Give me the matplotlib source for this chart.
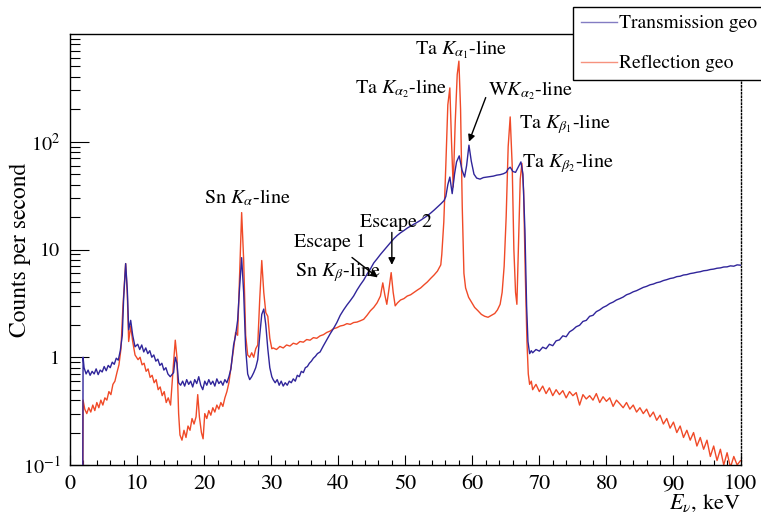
import numpy as np
import matplotlib
matplotlib.use("Agg")
import matplotlib.pyplot as plt
from matplotlib.ticker import FixedLocator, FixedFormatter, LogLocator, NullFormatter, MultipleLocator

# ---------------- data ----------------
E_trans = [1.9, 1.95, 2.1, 2.4, 2.7, 3.0, 3.3, 3.6, 3.9, 4.2, 4.5, 4.8, 5.1, 5.4, 5.7, 6.0, 6.3, 6.6, 6.9, 7.2,
           7.5, 7.8, 8.0, 8.3, 8.55, 8.75, 9.05, 9.35, 9.7,
           10.1, 10.4, 10.7, 11.0, 11.3, 11.6, 11.9, 12.2, 12.5, 12.8, 13.1, 13.4, 13.7, 14.0, 14.3, 14.6, 14.95,
           15.45, 15.7, 15.95,
           16.2, 16.5, 16.8, 17.1, 17.4, 17.7, 18.0, 18.3, 18.6, 18.9, 19.2, 19.5, 19.8, 20.1, 20.4, 20.7, 21.0,
           21.3, 21.6, 21.9, 22.2, 22.5, 22.8, 23.1, 23.4, 23.7, 24.0,
           24.4, 24.7, 25.0, 25.3, 25.6, 25.9, 26.2, 26.5, 26.8, 27.1, 27.4, 27.7, 28.0, 28.3, 28.6, 28.9, 29.2,
           29.5, 29.8, 30.1,
           30.3, 30.6, 30.9, 31.2, 31.5, 31.8, 32.1, 32.4, 32.7, 33.0, 33.3, 33.6, 33.9, 34.2, 34.5, 34.8, 35.1,
           35.4, 35.7, 36.0, 36.3, 36.6, 36.9,
           37.3, 37.8, 38.3, 38.8, 39.3, 39.8, 40.3, 40.8, 41.3, 41.8, 42.3, 42.8, 43.3, 43.8, 44.3, 44.8, 45.3,
           45.8, 46.3, 46.8, 47.3, 47.8, 48.3, 48.8, 49.3, 49.8, 50.3, 50.8, 51.3, 51.8, 52.3, 52.8, 53.3, 53.8,
           54.3, 54.8, 55.3, 55.8,
           56.05, 56.35, 56.65, 57.0, 57.35, 57.65, 58.05, 58.45, 58.85, 59.15, 59.5, 59.85, 60.25, 60.65, 61.15,
           61.65, 62.15, 62.65, 63.15, 63.65, 64.15, 64.65, 65.05, 65.35, 65.65, 66.05, 66.45, 66.85, 67.25,
           67.55, 67.85, 68.1, 68.3, 68.55,
           68.8, 69.0, 69.5, 70.0, 70.5, 71.0, 71.5, 72.0, 72.5, 73.0, 73.5,
           74.0, 74.5, 75.0, 75.5, 76.0, 76.5, 77.0, 77.5, 78.0, 78.5, 79.0, 79.5, 80.0, 80.5, 81.0, 81.5, 82.0,
           82.5, 83.0, 83.5, 84.0, 84.5, 85.0, 85.5, 86.0, 86.5, 87.0, 87.5, 88.0, 88.5, 89.0, 89.5, 90.0, 90.5,
           91.0, 91.5, 92.0, 92.5, 93.0, 93.5, 94.0, 94.5, 95.0, 95.5, 96.0, 96.5, 97.0, 97.5, 98.0, 98.5, 99.0,
           99.5, 100.0]
trans = [0.05, 1.0, 0.80, 0.70, 0.76, 0.68, 0.74, 0.70, 0.78, 0.69, 0.76, 0.73, 0.82, 0.75, 0.84, 0.80, 0.90, 0.86,
         0.98, 0.94, 1.15, 1.6, 3.5, 7.4, 4.2, 1.8, 2.2, 1.6, 1.25,
         1.32, 1.18, 1.30, 1.12, 1.22, 1.08, 1.15, 1.00, 1.05, 0.92, 0.96, 0.84, 0.88, 0.76, 0.80, 0.70, 0.66,
         0.72, 1.0, 0.88,
         0.58, 0.55, 0.60, 0.54, 0.62, 0.56, 0.60, 0.53, 0.62, 0.57, 0.66, 0.55, 0.50, 0.60, 0.55, 0.62, 0.56,
         0.60, 0.54, 0.63, 0.57, 0.60, 0.55, 0.62, 0.58, 0.66, 0.78,
         1.3, 1.6, 2.2, 4.5, 8.4, 4.0, 1.2, 0.70, 0.62, 0.66, 0.72, 0.80, 0.95, 1.6, 2.5, 2.8, 2.0,
         1.2, 0.80, 0.66,
         0.62, 0.58, 0.62, 0.55, 0.60, 0.54, 0.58, 0.55, 0.60, 0.58, 0.63, 0.60, 0.68, 0.66, 0.74, 0.72, 0.80,
         0.82, 0.88, 0.92, 0.98, 1.02, 1.08,
         1.12, 1.28, 1.45, 1.65, 1.85, 2.1, 2.45, 2.75, 3.05, 3.35, 3.7, 4.2, 4.7, 5.2, 5.9, 6.6, 7.5,
         8.2, 9.0, 9.8, 10.7, 11.6, 12.6, 13.5, 14.3, 15.0, 15.8, 16.5, 17.2, 17.9, 18.7, 19.6, 20.6, 21.8,
         23.2, 24.8, 26.5, 28.5,
         31, 40, 47, 33, 50, 65, 74, 55, 47, 60, 93, 66, 50, 46, 45,
         46.5, 47, 47.5, 48, 49, 49.5, 50.5, 52, 56, 58, 53, 52, 58, 65,
         50, 15, 3, 1.4, 1.08,
         1.15, 1.10, 1.18, 1.14, 1.24, 1.20, 1.32, 1.28, 1.42, 1.45, 1.58,
         1.55, 1.72, 1.80, 1.92, 1.98, 2.15, 2.20, 2.40, 2.45, 2.65, 2.75, 2.90, 3.0, 3.15, 3.25, 3.40, 3.50,
         3.62, 3.80, 3.90, 4.05, 4.15, 4.3, 4.45, 4.55, 4.70, 4.78, 4.92, 5.00, 5.15, 5.25, 5.38, 5.45, 5.60,
         5.65, 5.80, 5.85, 5.98, 6.05, 6.15, 6.22, 6.35, 6.40, 6.52, 6.58, 6.70, 6.75, 6.88, 6.90, 7.05, 7.00,
         7.20, 7.15]

E_refl = [1.9, 1.95, 2.2, 2.5, 2.8, 3.1, 3.4, 3.7, 4.0, 4.3, 4.6, 4.9, 5.2, 5.5, 5.8, 6.1, 6.4, 6.7, 7.0, 7.3,
          7.6, 7.9, 8.3, 8.55, 8.75, 9.05, 9.35, 9.7,
          10.15, 10.45, 10.75, 11.05, 11.35, 11.65, 11.95, 12.25, 12.55, 12.85, 13.15, 13.45, 13.75, 14.05,
          14.35, 14.65,
          15.0, 15.45, 15.7, 15.95, 16.2,
          16.4, 16.7, 17.0, 17.3, 17.6, 17.9, 18.2, 18.5, 18.8, 19.05, 19.3, 19.6, 19.85, 20.1, 20.4, 20.7, 21.0,
          21.3, 21.6, 21.9, 22.2, 22.5, 22.8, 23.1, 23.4, 23.7, 24.0,
          24.4, 24.7, 25.0, 25.3, 25.6, 25.9, 26.2, 26.5, 26.8, 27.1, 27.4, 27.7, 28.0, 28.3, 28.6, 28.9, 29.2,
          29.5, 29.8, 30.1,
          30.3, 30.8, 31.3, 31.8, 32.3, 32.8, 33.3, 33.8, 34.3, 34.8, 35.3, 35.8, 36.3, 36.8, 37.3, 37.8, 38.3,
          38.8, 39.3, 39.8, 40.3, 40.8, 41.3, 41.8, 42.3, 42.8, 43.3, 43.8,
          44.3, 44.8, 45.3, 45.8, 46.3,
          46.65, 46.95, 47.25, 47.55, 47.9, 48.2, 48.5, 48.85, 49.3,
          49.8, 50.3, 50.8, 51.3, 51.8, 52.3, 52.8, 53.3, 53.8, 54.3, 54.8, 55.3,
          55.45, 55.75, 56.05, 56.35, 56.65, 56.9, 57.15, 57.45, 57.75, 58.0, 58.25, 58.5, 58.75, 59.0, 59.45,
          59.95, 60.35, 60.85, 61.35, 61.85, 62.35, 62.85, 63.35, 63.75, 64.15, 64.45, 64.75, 65.05, 65.35,
          65.65, 65.95, 66.2, 66.45, 66.65, 66.9, 67.15, 67.4, 67.65, 67.9, 68.15, 68.35, 68.55,
          68.8, 69.0, 69.5, 70.0, 70.5, 71.0, 71.5, 72.0, 72.5, 73.0, 73.5, 74.0, 74.5, 75.0,
          75.5, 76.0, 76.5, 77.0, 77.5, 78.0, 78.5, 79.0, 79.5, 80.0, 80.5, 81.0, 81.5, 82.0, 82.5, 83.0, 83.5,
          84.0, 84.5, 85.0, 85.5, 86.0, 86.5, 87.0, 87.5, 88.0, 88.5, 89.0, 89.5, 90.0, 90.5, 91.0, 91.5, 92.0,
          92.5, 93.0, 93.5, 94.0, 94.5, 95.0, 95.5, 96.0, 96.5, 97.0, 97.5, 98.0, 98.5, 99.0, 99.5, 100.0]
refl = [0.05, 0.40, 0.33, 0.30, 0.34, 0.31, 0.36, 0.32, 0.38, 0.34, 0.40, 0.36, 0.42, 0.40, 0.48, 0.45, 0.56, 0.60,
        0.72, 0.85, 1.2, 3.0, 7.4, 3.8, 1.4, 1.95, 1.4, 1.05,
        0.95, 1.0, 0.85, 0.88, 0.74, 0.78, 0.65, 0.68, 0.58, 0.62, 0.50, 0.53, 0.44, 0.48, 0.38, 0.42,
        0.36, 0.9, 1.44, 1.0, 0.3,
        0.19, 0.17, 0.21, 0.18, 0.23, 0.21, 0.27, 0.24, 0.28, 0.45, 0.28, 0.20, 0.175, 0.30, 0.27, 0.32, 0.29,
        0.34, 0.31, 0.36, 0.33, 0.38, 0.35, 0.42, 0.48, 0.58, 0.80,
        1.2, 1.7, 1.6, 6, 22, 8, 1.6, 1.05, 1.0, 1.1, 1.0, 1.2, 1.3, 3.5, 7.9, 4.0, 2.6, 2.4, 1.5, 1.2,
        1.22, 1.18, 1.26, 1.22, 1.30, 1.27, 1.35, 1.32, 1.40, 1.38, 1.46, 1.44, 1.52, 1.50, 1.58, 1.62, 1.70,
        1.75, 1.84, 1.88, 1.95, 1.98, 2.05, 2.02, 2.10, 2.12, 2.18, 2.25,
        2.45, 2.7, 2.9, 3.2, 3.7,
        4.9, 3.8, 3.1, 4.2, 6.1, 4.0, 3.0, 3.2, 3.4,
        3.5, 3.7, 3.8, 4.0, 4.2, 4.4, 4.7, 5.0, 5.4, 5.8, 6.3, 7.2,
        9, 18, 60, 220, 316, 100, 38, 150, 420, 560, 200, 25, 6, 4.4, 3.6,
        3.2, 2.9, 2.7, 2.5, 2.4, 2.35, 2.45, 2.55, 2.75, 3.1, 4.0, 7, 20, 90,
        170, 60, 10, 4, 3.1, 12, 45, 63, 35, 6, 1.4, 0.7, 0.56,
        0.60, 0.50, 0.56, 0.48, 0.54, 0.46, 0.52, 0.44, 0.50, 0.45, 0.49, 0.42, 0.48, 0.44,
        0.47, 0.36, 0.45, 0.41, 0.44, 0.40, 0.46, 0.38, 0.43, 0.39, 0.42, 0.35, 0.40, 0.37, 0.34, 0.38, 0.33,
        0.36, 0.31, 0.34, 0.30, 0.33, 0.28, 0.31, 0.26, 0.29, 0.24, 0.27, 0.22, 0.25, 0.20, 0.23, 0.18, 0.21,
        0.17, 0.20, 0.15, 0.18, 0.14, 0.17, 0.12, 0.15, 0.11, 0.14, 0.10, 0.13, 0.095, 0.12, 0.10, 0.11]

y_ticks = [0.1, 1, 10, 100]
y_tick_labels = [r'$10^{-1}$', '1', '10', r'$10^{2}$']
x_ticks = [0, 10, 20, 30, 40, 50, 60, 70, 80, 90, 100]

# ---------------- style ----------------
plt.rcParams['font.family'] = ['STIXGeneral', 'DejaVu Serif']
plt.rcParams['mathtext.fontset'] = 'stix'

BLUE = '#30259a'
RED = '#f04a28'

fig = plt.figure(figsize=(7.61, 5.18), dpi=100)
ax = fig.add_axes([70/761, 1-465/518, (740.5-70)/761, (465-34)/518])

ax.plot(E_trans, trans, color=BLUE, lw=1.0, label='Transmission geo', zorder=3)
ax.plot(E_refl, refl, color=RED, lw=1.0, label='Reflection geo', zorder=2)

ax.set_yscale('log')
ax.set_xlim(0, 100)
ax.set_ylim(0.1, 1000)

ax.xaxis.set_major_locator(FixedLocator(x_ticks))
ax.xaxis.set_minor_locator(MultipleLocator(2))
ax.yaxis.set_major_locator(FixedLocator(y_ticks))
ax.yaxis.set_major_formatter(FixedFormatter(y_tick_labels))
ax.yaxis.set_minor_locator(LogLocator(base=10, subs=np.arange(2, 10)))
ax.yaxis.set_minor_formatter(NullFormatter())

ax.tick_params(axis='x', which='major', direction='in', length=7, width=0.8, labelsize=16, pad=7,
               top=False)
ax.tick_params(axis='x', which='minor', direction='in', length=3.6, width=0.8, top=False)
ax.tick_params(axis='y', which='major', direction='in', length=14, width=0.8, labelsize=14.5, pad=7,
               right=False)
ax.tick_params(axis='y', which='minor', direction='in', length=7, width=0.8, right=False)

for s in ['left', 'bottom', 'top']:
    ax.spines[s].set_linewidth(1.0)
ax.spines['right'].set_linestyle((0, (1, 1.5)))
ax.spines['right'].set_linewidth(1.0)

ax.set_ylabel('Counts per second', fontsize=17)
ax.yaxis.set_label_coords(-0.058, 0.5)
ax.text(1.0, -0.09, r'$E_{\nu}$, keV', transform=ax.transAxes, ha='right', va='center', fontsize=16)

# annotations
fs = 14.5
ax.text(26.5, 30.4, r'Sn $K_{\alpha}$-line', ha='center', va='center', fontsize=fs)
ax.text(40.0, 6.2, r'Sn $K_{\beta}$-line', ha='center', va='center', fontsize=fs)
ax.text(38.8, 11.6, 'Escape 1', ha='center', va='center', fontsize=fs)
ax.text(48.6, 17.8, 'Escape 2', ha='center', va='center', fontsize=fs)
ax.text(58.3, 720, r'Ta $K_{\alpha_1}$-line', ha='center', va='center', fontsize=fs)
ax.text(49.4, 310, r'Ta $K_{\alpha_2}$-line', ha='center', va='center', fontsize=fs)
ax.text(68.75, 300, r'W$K_{\alpha_2}$-line', ha='center', va='center', fontsize=fs)
ax.text(73.8, 145, r'Ta $K_{\beta_1}$-line', ha='center', va='center', fontsize=fs)
ax.text(74.3, 64, r'Ta $K_{\beta_2}$-line', ha='center', va='center', fontsize=fs)

arrow = dict(arrowstyle='-|>', color='black', lw=1.0, mutation_scale=10, shrinkA=0, shrinkB=0)
ax.annotate('', xy=(45.9, 5.5), xytext=(42.06, 8.43), arrowprops=arrow)
ax.annotate('', xy=(48.0, 7.2), xytext=(48.0, 14.4), arrowprops=arrow)
ax.annotate('', xy=(59.5, 100), xytext=(62.0, 257), arrowprops=arrow)

leg = fig.legend(loc='upper left', bbox_to_anchor=(573/761, 1-7/518), fontsize=14, frameon=True,
                 fancybox=False, edgecolor='black', framealpha=1, borderpad=0.4, handlelength=1.85,
                 handletextpad=0.1, labelspacing=1.15, borderaxespad=0)
leg.get_frame().set_linewidth(1.0)
for h in leg.legend_handles:
    h.set_alpha(0.6)

fig.savefig('out.png', dpi=100)
